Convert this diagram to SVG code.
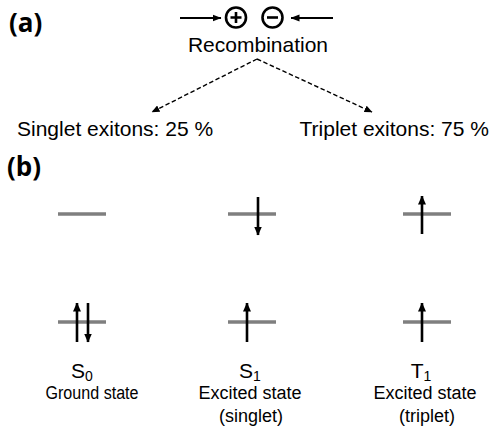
<svg xmlns="http://www.w3.org/2000/svg" width="490" height="428" viewBox="0 0 490 428">
  <style>
    .panel { font-family: "Open Sans", "DejaVu Sans", sans-serif; font-weight: 700; font-size: 26px; fill: #000; }
    .lbl { font-family: "Liberation Sans", Arial, sans-serif; fill: #000; }
    .big { font-size: 21px; }
    .state { font-size: 21px; text-anchor: middle; }
    .desc { font-size: 18px; text-anchor: middle; }
    .level { stroke: #7f7f7f; stroke-width: 3.5; fill: none; }
    .spin { stroke: #000; stroke-width: 2.6; fill: none; marker-end: url(#spinHead); }
    .push { stroke: #000; stroke-width: 2; fill: none; marker-end: url(#pushHead); }
    .dash { stroke: #000; stroke-width: 1.4; stroke-dasharray: 4.5 2.5; fill: none; marker-end: url(#dashHead); }
    .charge { stroke: #000; stroke-width: 2.6; fill: none; }
  </style>
  <defs>
    <marker id="spinHead" markerUnits="userSpaceOnUse" viewBox="0 0 9 8" markerWidth="9" markerHeight="8" refX="8.5" refY="4" orient="auto">
      <path d="M0,0 L9,4 L0,8 z" fill="#000"/>
    </marker>
    <marker id="pushHead" markerUnits="userSpaceOnUse" viewBox="0 0 9 8" markerWidth="9" markerHeight="8" refX="8.5" refY="4" orient="auto">
      <path d="M0,0.5 L9,4 L0,7.5 z" fill="#000"/>
    </marker>
    <marker id="dashHead" markerUnits="userSpaceOnUse" viewBox="0 0 8 7" markerWidth="8" markerHeight="7" refX="7.5" refY="3.5" orient="auto">
      <path d="M0,0 L8,3.5 L0,7 z" fill="#000"/>
    </marker>
  </defs>

  <!-- panel letters -->
  <text class="panel" x="9" y="32">(a)</text>
  <text class="panel" x="7" y="176">(b)</text>

  <!-- (a) charge carriers meeting -->
  <g id="hole">
    <circle class="charge" cx="236" cy="17.5" r="10"/>
    <path class="charge" d="M230.5,17.5 H241.5 M236,12 V23"/>
  </g>
  <g id="electron">
    <circle class="charge" cx="272.5" cy="17.5" r="10"/>
    <path class="charge" d="M267,17.5 H278"/>
  </g>
  <g id="recombination">
    <text class="lbl big" x="258" y="52" text-anchor="middle">Recombination</text>
  </g>
  <g id="singlet-exitons">
    <text class="lbl big" x="17" y="136">Singlet exitons: 25 %</text>
  </g>
  <g id="triplet-exitons">
    <text class="lbl big" x="489" y="136" text-anchor="end">Triplet exitons: 75 %</text>
  </g>

  <g id="connectors">
    <line class="push" x1="180" y1="18" x2="221" y2="18"/>
    <line class="push" x1="333" y1="18" x2="291" y2="18"/>
    <line class="dash" x1="257" y1="59" x2="152" y2="112"/>
    <line class="dash" x1="257" y1="59" x2="372" y2="112"/>
  </g>

  <!-- (b) orbital occupation -->
  <g id="S0">
    <line class="level" x1="58" y1="214" x2="106" y2="214"/>
    <line class="level" x1="58" y1="322" x2="106" y2="322"/>
    <line class="spin" x1="77" y1="342" x2="77" y2="303"/>
    <line class="spin" x1="88" y1="303" x2="88" y2="342"/>
    <text class="lbl state" x="82" y="378">S<tspan font-size="14" dy="3">0</tspan></text>
    <text class="lbl desc" x="92" y="399" textLength="93" lengthAdjust="spacingAndGlyphs">Ground state</text>
  </g>
  <g id="S1">
    <line class="level" x1="228" y1="214" x2="276" y2="214"/>
    <line class="level" x1="228" y1="322" x2="276" y2="322"/>
    <line class="spin" x1="258" y1="197" x2="258" y2="235"/>
    <line class="spin" x1="247" y1="342" x2="247" y2="303"/>
    <text class="lbl state" x="250" y="378">S<tspan font-size="14" dy="3">1</tspan></text>
    <text class="lbl desc" x="250" y="399">Excited state</text>
    <text class="lbl desc" x="251" y="422">(singlet)</text>
  </g>
  <g id="T1">
    <line class="level" x1="403" y1="214" x2="451" y2="214"/>
    <line class="level" x1="403" y1="322" x2="451" y2="322"/>
    <line class="spin" x1="422" y1="234" x2="422" y2="196"/>
    <line class="spin" x1="422" y1="342" x2="422" y2="303"/>
    <text class="lbl state" x="421" y="378">T<tspan font-size="14" dy="3">1</tspan></text>
    <text class="lbl desc" x="425" y="399">Excited state</text>
    <text class="lbl desc" x="427" y="422">(triplet)</text>
  </g>
</svg>
